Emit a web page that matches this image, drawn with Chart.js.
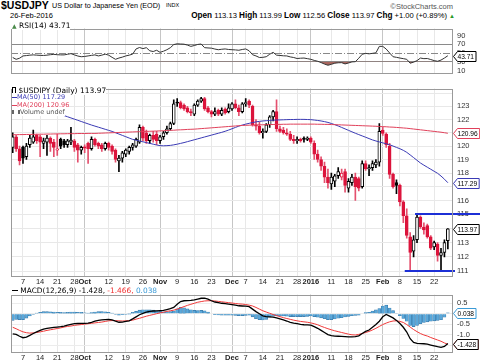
<!DOCTYPE html>
<html>
<head>
<meta charset="utf-8">
<script src="https://cdn.jsdelivr.net/npm/chart.js@4.4.1/dist/chart.umd.min.js"></script>
<style>
  body { margin: 0; width: 480px; height: 363px; overflow: hidden; position: relative; background: #fff;
         font-family: 'Liberation Sans', Arial, sans-serif; color: #000; }
  .box { position: absolute; left: 0; width: 480px; }
  .t { position: absolute; white-space: nowrap; line-height: 1; }
  .lg { position: absolute; z-index: 2; white-space: nowrap; font-family: 'DejaVu Sans', sans-serif; }
  .lg span { background: #fff; }
  .row { height: 7.4px; line-height: 7.4px; font-size: 6.5px; }
  .ico { display: inline-block; vertical-align: middle; }
</style>
</head>
<body>
<div class="t" style="left:1px;top:0px;font-size:10.5px;font-weight:bold;">$USDJPY</div>
<div class="t" style="left:52px;top:2px;font-size:7.2px;">US Dollar to Japanese Yen (EOD)</div>
<div class="t" style="left:166px;top:3px;font-size:5.5px;">INDX</div>
<div class="t" style="left:10px;top:12px;font-size:7.5px;">26-Feb-2016</div>
<div class="t" style="right:27px;top:3px;font-size:7.5px;color:#555;">©StockCharts.com</div>
<div class="t" style="right:25px;top:12px;font-size:7.6px;"><b style="font-size:8.2px">Open</b> 113.13 <b style="font-size:8.2px">High</b> 113.99 <b style="font-size:8.2px">Low</b> 112.56 <b style="font-size:8.2px">Close</b> 113.97 <b style="font-size:8.2px">Chg</b> +1.00 (+0.89%) <span style="color:#2a9a2a;font-size:6px">▲</span></div>

<div class="box" style="top:20px;height:62px;"><canvas id="rsiChart"></canvas></div>
<div class="box" style="top:80px;height:208px;"><canvas id="priceChart"></canvas></div>
<div class="box" style="top:286px;height:77px;"><canvas id="macdChart"></canvas></div>

<div class="lg" style="left:12px;top:22px;font-size:7.5px;line-height:8px;"><span><span style="color:#4a8a4a;font-size:6px">▲</span> RSI(14) 43.71</span></div>

<div class="lg" style="left:12px;top:87px;">
  <div class="row" style="font-size:7.5px;"><span><span class="ico" style="width:2px;height:5px;border:1px solid #000;"></span> $USDJPY (Daily) 113.97</span></div>
  <div class="row" style="color:#3a3ab4;"><span><span class="ico" style="width:5px;border-top:1.5px solid #3a3ab4;"></span>MA(50) 117.29</span></div>
  <div class="row" style="color:#e0405a;"><span><span class="ico" style="width:5px;border-top:1.5px solid #e0405a;"></span>MA(200) 120.96</span></div>
  <div class="row" style="color:#555;"><span><span class="ico" style="width:4px;height:4px;border-left:2px solid #666;border-right:2px solid #666;"></span>Volume undef</span></div>
</div>

<div class="lg" style="left:12px;top:287px;font-size:7.4px;line-height:8px;"><span><span class="ico" style="width:6px;border-top:1.5px solid #000;"></span> MACD(12,26,9) -1.428, <span style="color:#f03030">-1.466,</span> <span style="color:#3a9ad6">0.038</span></span></div>

<script>
// calendar: every weekday shown from first to last bar
const firstDay = '2015-09-02';
const lastDay = '2016-02-26';

const tickDates = ['2015-09-07', '2015-09-14', '2015-09-21', '2015-09-28', '2015-10-01', '2015-10-12', '2015-10-19',
    '2015-10-26', '2015-11-02', '2015-11-09', '2015-11-16', '2015-11-23', '2015-12-01', '2015-12-07', '2015-12-14',
    '2015-12-21', '2015-12-28', '2016-01-01', '2016-01-11', '2016-01-18', '2016-01-25', '2016-02-01', '2016-02-08',
    '2016-02-15', '2016-02-22'];
const tickText = ['7', '14', '21', '28', 'Oct', '12', '19', '26', 'Nov', '9', '16', '23', 'Dec', '7', '14',
    '21', '28', '2016', '11', '18', '25', 'Feb', '8', '15', '22'];
const boldTicks = ['Oct', 'Nov', 'Dec', '2016', 'Feb'];

const open = [
    119.9, 120.7, 119.8, 119.9, 119.2, 120.1, 120.3, 120.8, 120.7, 120.2,
    120.3, 120.6, 120.3, 119.7, 120.5, 120.4, 120.1, 120.3, 120.4, 120.1,
    119.7, 119.95, 120.2, 119.8, 120.5, 120.2, 120.1, 119.8, 120.2, 120.0,
    119.7, 118.9, 119.1, 119.4, 119.6, 119.9, 120.0, 120.3, 121.4, 121.0,
    120.4, 120.8, 120.9, 120.4, 120.7, 121.0, 121.3, 121.7, 123.3, 123.3,
    123.1, 122.9, 122.6, 122.4, 123.1, 123.4, 123.6, 122.9, 122.6, 122.4,
    122.7, 122.4, 122.8, 122.6, 122.8, 123.2, 122.9, 122.6, 123.2, 123.4,
    123.0, 121.6, 121.5, 121.0, 121.1, 121.6, 122.2, 122.6, 121.3, 121.2,
    121.0, 120.9, 120.5, 120.4, 120.5, 120.6, 120.5, 120.6, 120.2, 119.4,
    119.0, 118.5, 117.7, 117.2, 117.4, 117.8, 117.7, 118.1, 116.9, 117.3,
    117.7, 117.6, 117.0, 118.7, 118.3, 118.4, 118.6, 118.8, 121.2, 120.9,
    120.0, 117.9, 117.3, 117.1, 115.9, 114.9, 113.4, 112.4, 113.2, 114.8,
    114.1, 114.2, 113.4, 112.7, 112.9, 112.1, 112.3, 113.13];
const high = [
    121.0, 120.8, 120.0, 120.0, 120.2, 120.8, 121.2, 120.9, 120.8, 120.6,
    120.8, 120.7, 120.5, 120.9, 120.6, 120.5, 120.5, 121.4, 120.5, 120.2,
    120.0, 120.1, 120.3, 120.7, 120.6, 120.3, 120.2, 120.3, 120.3, 120.1,
    119.8, 119.3, 119.6, 119.8, 120.0, 120.2, 120.6, 121.6, 121.5, 121.2,
    120.9, 121.1, 121.1, 120.8, 121.1, 121.5, 121.8, 123.5, 123.6, 123.4,
    123.2, 123.0, 122.8, 123.2, 123.5, 123.7, 123.7, 123.0, 122.7, 122.9,
    122.8, 122.9, 122.9, 123.2, 123.3, 123.5, 123.1, 123.3, 123.6, 123.5,
    123.1, 122.0, 121.8, 121.3, 121.7, 122.3, 122.7, 123.5, 121.5, 121.4,
    121.3, 121.1, 120.8, 120.7, 120.6, 120.7, 120.7, 120.7, 120.4, 119.7,
    119.2, 118.8, 118.3, 118.0, 117.9, 118.4, 118.3, 118.3, 117.6, 117.9,
    118.0, 117.7, 118.9, 118.9, 118.6, 118.9, 119.0, 121.7, 121.4, 121.0,
    120.2, 118.0, 117.5, 117.2, 116.0, 115.4, 113.7, 113.5, 115.0, 114.9,
    114.4, 114.3, 113.5, 113.1, 113.0, 112.6, 113.2, 113.99];
const low = [
    119.5, 119.6, 118.6, 118.7, 119.0, 119.9, 120.2, 120.2, 119.2, 119.8,
    119.3, 119.6, 119.2, 119.3, 119.8, 119.9, 119.9, 120.1, 119.6, 118.8,
    119.4, 119.5, 118.7, 119.7, 120.0, 119.8, 119.6, 119.7, 119.7, 119.4,
    118.8, 118.1, 118.8, 119.2, 119.4, 119.7, 119.9, 120.2, 120.4, 120.2,
    120.2, 120.3, 120.1, 120.2, 120.5, 120.9, 121.2, 121.6, 123.0, 122.8,
    122.7, 122.5, 122.3, 122.3, 123.0, 123.3, 122.7, 122.5, 122.2, 122.3,
    122.3, 122.3, 122.4, 122.5, 122.7, 122.8, 122.3, 122.5, 123.0, 122.9,
    121.5, 121.2, 120.9, 120.6, 121.0, 121.4, 121.9, 121.1, 121.0, 120.9,
    120.8, 120.4, 120.2, 120.2, 120.3, 120.3, 120.4, 120.2, 119.0, 118.8,
    118.2, 117.3, 116.9, 116.8, 117.0, 117.6, 117.5, 116.6, 116.6, 117.1,
    116.0, 116.7, 116.9, 118.2, 117.8, 118.2, 118.4, 118.5, 120.8, 119.9,
    117.6, 116.9, 116.5, 115.6, 114.4, 113.3, 111.0, 112.0, 113.0, 114.0,
    113.6, 113.3, 112.5, 112.5, 111.7, 111.1, 112.0, 112.56];
const close = [
    120.7, 119.8, 118.9, 119.1, 120.0, 120.6, 120.7, 120.4, 120.3, 120.4,
    120.6, 120.2, 119.9, 119.8, 120.0, 120.1, 120.4, 120.45, 119.9, 119.7,
    119.9, 119.85, 119.8, 120.5, 120.1, 120.0, 119.8, 120.2, 119.9, 119.6,
    119.0, 119.1, 119.5, 119.7, 119.9, 120.1, 120.5, 121.4, 120.6, 120.4,
    120.8, 120.5, 120.4, 120.7, 121.0, 121.3, 121.7, 123.2, 123.25, 122.9,
    122.8, 122.6, 122.5, 123.1, 123.4, 123.6, 122.8, 122.6, 122.4, 122.6,
    122.4, 122.7, 122.5, 122.9, 123.2, 122.9, 122.6, 123.2, 123.3, 123.1,
    121.6, 121.5, 121.0, 121.1, 121.6, 122.2, 122.6, 121.3, 121.1, 121.0,
    120.9, 120.5, 120.4, 120.5, 120.4, 120.5, 120.6, 120.3, 119.4, 119.0,
    118.5, 117.7, 117.3, 117.7, 117.8, 118.1, 118.0, 117.1, 117.4, 117.7,
    117.0, 116.9, 118.7, 118.3, 118.4, 118.7, 118.8, 121.1, 120.95, 120.1,
    117.9, 117.0, 117.1, 115.9, 114.9, 113.5, 112.3, 113.2, 114.8, 114.1,
    113.9, 113.4, 112.6, 113.0, 112.1, 112.3, 113.0, 113.97];

const ma50 = [
    123.50, 123.42, 123.34, 123.26, 123.18, 123.10, 123.02, 122.94, 122.86, 122.78,
    122.70, 122.62, 122.54, 122.46, 122.38, 122.30, 122.21, 122.12, 122.03, 121.94,
    121.85, 121.76, 121.67, 121.58, 121.50, 121.42, 121.34, 121.26, 121.18, 121.10,
    121.00, 120.90, 120.80, 120.70, 120.60, 120.50, 120.44, 120.38, 120.32, 120.26,
    120.20, 120.14, 120.08, 120.03, 120.02, 120.03, 120.05, 120.09, 120.14, 120.20,
    120.26, 120.33, 120.40, 120.47, 120.54, 120.61, 120.68, 120.75, 120.82, 120.89,
    120.96, 121.03, 121.11, 121.20, 121.30, 121.40, 121.50, 121.58, 121.65, 121.71,
    121.77, 121.82, 121.86, 121.89, 121.91, 121.93, 121.95, 121.96, 121.97, 121.98,
    121.99, 122.00, 122.00, 122.01, 122.01, 122.01, 122.00, 121.99, 121.96, 121.93,
    121.89, 121.84, 121.78, 121.70, 121.61, 121.51, 121.40, 121.29, 121.18, 121.07,
    120.96, 120.86, 120.76, 120.66, 120.56, 120.46, 120.38, 120.31, 120.24, 120.17,
    120.10, 120.00, 119.90, 119.80, 119.68, 119.53, 119.34, 119.14, 118.94, 118.74,
    118.58, 118.43, 118.28, 118.13, 117.98, 117.78, 117.55, 117.29];
const ma200 = [
    120.85, 120.85, 120.86, 120.86, 120.87, 120.87, 120.88, 120.88, 120.89, 120.89,
    120.90, 120.90, 120.91, 120.91, 120.92, 120.92, 120.93, 120.93, 120.93, 120.94,
    120.94, 120.94, 120.95, 120.95, 120.95, 120.96, 120.97, 120.98, 120.99, 121.00,
    121.01, 121.02, 121.03, 121.04, 121.05, 121.06, 121.07, 121.08, 121.09, 121.10,
    121.11, 121.12, 121.13, 121.14, 121.15, 121.17, 121.18, 121.19, 121.21, 121.22,
    121.23, 121.25, 121.26, 121.27, 121.29, 121.31, 121.33, 121.35, 121.37, 121.39,
    121.41, 121.43, 121.45, 121.47, 121.49, 121.51, 121.53, 121.55, 121.56, 121.57,
    121.58, 121.59, 121.60, 121.60, 121.61, 121.62, 121.62, 121.63, 121.63, 121.64,
    121.64, 121.65, 121.65, 121.65, 121.65, 121.65, 121.65, 121.65, 121.65, 121.64,
    121.64, 121.63, 121.63, 121.62, 121.61, 121.60, 121.59, 121.58, 121.57, 121.56,
    121.55, 121.54, 121.53, 121.52, 121.51, 121.50, 121.49, 121.47, 121.46, 121.45,
    121.43, 121.42, 121.40, 121.38, 121.36, 121.34, 121.31, 121.28, 121.25, 121.22,
    121.19, 121.16, 121.13, 121.10, 121.07, 121.04, 121.00, 120.96];

const rsi = [
    39.6, 35.5, 38, 43.2, 44, 45, 45.6, 45, 44.5, 44.3,
    45, 46, 46.8, 46, 45.6, 45.6, 47, 48.5, 45.6, 43,
    41.4, 42, 43.2, 44.5, 45.6, 43.2, 45, 47.3, 45, 40,
    35.5, 38.4, 40.5, 43.2, 45, 47.3, 59.2, 62.5, 60, 62.1,
    55, 53.3, 56.2, 51.5, 54, 57.4, 62, 69.2, 71, 70.5,
    70.1, 68, 65.1, 67, 69.5, 70.5, 62.1, 61.5, 61, 59,
    57.4, 58.5, 59.2, 58, 57.4, 57, 56.2, 58, 59.2, 55,
    46, 43.2, 39.6, 40, 41.4, 47, 51.5, 45, 44.3, 43.5,
    43.2, 41, 39.6, 37.3, 38, 38.4, 37, 35.5, 33, 31,
    28, 24.5, 21.9, 24, 26.6, 27.5, 27.8, 24.9, 27, 29.6,
    30, 38, 47, 49.1, 48, 49.1, 50.3, 65.1, 65.1, 59,
    50, 41.4, 40, 38.4, 37, 35.5, 26.6, 29, 32.5, 38.4,
    37, 37.3, 35, 32.5, 31, 33.7, 38.4, 43.71];

const macd = [
    -0.97, -0.99, -1.08, -1.15, -1.12, -1.04, -0.95, -0.87, -0.80, -0.74,
    -0.70, -0.68, -0.66, -0.64, -0.62, -0.59, -0.55, -0.51, -0.48, -0.47,
    -0.46, -0.46, -0.45, -0.41, -0.36, -0.32, -0.30, -0.28, -0.27, -0.30,
    -0.36, -0.41, -0.40, -0.37, -0.34, -0.25, -0.15, -0.05, 0.02, 0.07,
    0.11, 0.13, 0.14, 0.15, 0.16, 0.20, 0.24, 0.30, 0.45, 0.58,
    0.62, 0.63, 0.64, 0.66, 0.70, 0.74, 0.75, 0.70, 0.62, 0.56,
    0.53, 0.50, 0.48, 0.46, 0.44, 0.41, 0.38, 0.37, 0.36, 0.34,
    0.22, 0.10, 0.00, -0.10, -0.14, -0.15, -0.16, -0.20, -0.25, -0.30,
    -0.35, -0.41, -0.45, -0.48, -0.51, -0.53, -0.54, -0.55, -0.62, -0.70,
    -0.80, -0.90, -1.00, -1.05, -1.07, -1.08, -1.09, -1.10, -1.11, -1.11,
    -1.10, -1.06, -0.95, -0.85, -0.78, -0.65, -0.52, -0.36, -0.15, -0.04,
    -0.12, -0.20, -0.32, -0.47, -0.65, -0.88, -1.20, -1.38, -1.42, -1.43,
    -1.44, -1.46, -1.50, -1.54, -1.58, -1.61, -1.57, -1.428];
const signal = [
    -0.65, -0.72, -0.80, -0.87, -0.91, -0.93, -0.92, -0.90, -0.87, -0.84,
    -0.80, -0.77, -0.74, -0.71, -0.68, -0.64, -0.61, -0.59, -0.56, -0.54,
    -0.52, -0.50, -0.48, -0.46, -0.44, -0.42, -0.40, -0.37, -0.34, -0.33,
    -0.33, -0.34, -0.35, -0.34, -0.33, -0.31, -0.26, -0.22, -0.17, -0.12,
    -0.08, -0.04, 0.00, 0.04, 0.07, 0.11, 0.14, 0.17, 0.22, 0.28,
    0.34, 0.40, 0.45, 0.50, 0.55, 0.58, 0.61, 0.62, 0.62, 0.61,
    0.59, 0.57, 0.55, 0.53, 0.51, 0.49, 0.47, 0.46, 0.44, 0.41,
    0.37, 0.30, 0.22, 0.14, 0.08, 0.02, -0.04, -0.09, -0.14, -0.19,
    -0.23, -0.27, -0.31, -0.34, -0.37, -0.39, -0.41, -0.44, -0.48, -0.53,
    -0.60, -0.66, -0.72, -0.77, -0.82, -0.86, -0.90, -0.94, -0.98, -1.01,
    -1.02, -0.99, -0.95, -0.90, -0.85, -0.78, -0.70, -0.61, -0.52, -0.45,
    -0.39, -0.35, -0.34, -0.37, -0.42, -0.52, -0.64, -0.76, -0.86, -0.95,
    -1.02, -1.07, -1.14, -1.20, -1.26, -1.32, -1.40, -1.466];
const hist = [
    -0.32, -0.27, -0.28, -0.28, -0.21, -0.11, -0.03, 0.03, 0.07, 0.10,
    0.10, 0.09, 0.08, 0.07, 0.06, 0.05, 0.06, 0.08, 0.08, 0.07,
    0.06, 0.04, 0.03, 0.05, 0.08, 0.10, 0.10, 0.09, 0.07, 0.03,
    -0.03, -0.07, -0.05, -0.03, -0.01, 0.06, 0.11, 0.17, 0.19, 0.19,
    0.19, 0.17, 0.14, 0.11, 0.09, 0.09, 0.10, 0.13, 0.23, 0.30,
    0.28, 0.23, 0.19, 0.16, 0.15, 0.16, 0.14, 0.08, 0.00, -0.05,
    -0.06, -0.07, -0.07, -0.07, -0.07, -0.08, -0.09, -0.09, -0.08, -0.07,
    -0.15, -0.24, -0.28, -0.30, -0.27, -0.17, -0.12, -0.11, -0.11, -0.11,
    -0.12, -0.14, -0.14, -0.14, -0.14, -0.14, -0.13, -0.11, -0.14, -0.17,
    -0.20, -0.24, -0.28, -0.28, -0.25, -0.22, -0.19, -0.16, -0.13, -0.10,
    -0.08, -0.07, 0.00, 0.05, 0.07, 0.13, 0.18, 0.25, 0.37, 0.41,
    0.27, 0.15, 0.02, -0.10, -0.23, -0.36, -0.56, -0.62, -0.56, -0.48,
    -0.42, -0.39, -0.36, -0.34, -0.32, -0.29, -0.17, 0.038];

const priceTicks = [111, 112, 113, 114, 115, 116, 117, 118, 119, 120, 121, 122, 123, 124];
const rsiTicks = [10, 30, 50, 70, 90];
const macdTicks = [0.5, 0, -0.5, -1.0, -1.5];

// drawn lines on the price panel
const resistance = { value: 115, from: '2016-02-15' };
const support = { value: 111, from: '2016-02-10' };

const RED = '#dc143c';
const WICK_RED = '#e4506e';
const BLUE = '#3a3ab4';
const MA_RED = '#e0405a';
const FONT = "'Liberation Sans', Arial, sans-serif";

Chart.defaults.font.family = FONT;
Chart.defaults.animation = false;

function tradingDays(a, b) {
    const out = [];
    const d = new Date(a + 'T00:00:00Z');
    const end = new Date(b + 'T00:00:00Z');
    while (d <= end) {
        const wd = d.getUTCDay();
        if (wd > 0 && wd < 6) out.push(d.toISOString().slice(0, 10));
        d.setUTCDate(d.getUTCDate() + 1);
    }
    return out;
}

const days = tradingDays(firstDay, lastDay);
const labels = days.concat(['']);   // one empty slot after the last bar, like the original
const tickAt = {};
tickDates.forEach((d, k) => { tickAt[days.indexOf(d)] = tickText[k]; });

// candle colours: hollow when close > open, red when close below the previous close
const bodyFill = close.map((c, i) => {
    const prev = i ? close[i - 1] : open[i];
    if (c >= open[i]) return '#ffffff';
    return c >= prev ? '#000000' : RED;
});
const bodyLine = close.map((c, i) => ((i ? close[i - 1] : open[i]) <= c ? '#000000' : RED));
const wickColor = bodyLine.map(c => (c === RED ? WICK_RED : '#000000'));

function xAxis(showLabels, h) {
    return {
        type: 'category',
        offset: true,
        grid: {
            offset: false, drawTicks: false,
            color: c => (c.tick && boldTicks.includes(c.tick.label)) ? '#c6c6c6' : '#e8e8e8'
        },
        border: { display: false },
        ticks: {
            display: showLabels, autoSkip: false, maxRotation: 0, minRotation: 0, padding: 1, color: '#222',
            font: c => ({ family: FONT, size: 7.5, weight: (c.tick && boldTicks.includes(c.tick.label)) ? 'bold' : 'normal' }),
            callback: v => tickAt[v]
        },
        afterBuildTicks: s => { s.ticks = s.ticks.filter(t => tickAt[t.value] !== undefined); },
        afterFit: s => { s.height = h; }
    };
}

function yAxis(extra) {
    return Object.assign({
        position: 'right',
        border: { display: false },
        grid: { drawTicks: false, color: '#e8e8e8' },
        ticks: { padding: 4, color: '#333', font: { size: 7.5 } },
        afterFit: s => { s.width = 27; }
    }, extra);
}

const frame = {
    id: 'frame',
    afterDatasetsDraw(chart) {
        const { ctx, chartArea: a } = chart;
        ctx.save();
        ctx.strokeStyle = '#9a9a9a';
        ctx.lineWidth = 1;
        ctx.strokeRect(Math.round(a.left) + 0.5, Math.round(a.top) + 0.5,
            Math.round(a.right - a.left) - 1, Math.round(a.bottom - a.top) - 1);
        ctx.restore();
    }
};

// last-value tags on the right axis
function valueTags(list) {
    return {
        id: 'valueTags',
        afterDraw(chart) {
            const ctx = chart.ctx;
            const x = Math.round(chart.chartArea.right) + 0.5;
            ctx.save();
            ctx.font = '6.6px ' + FONT;
            list.forEach(t => {
                const y = Math.round(chart.scales.y.getPixelForValue(t.value)) + 0.5;
                const w = ctx.measureText(t.text).width + 6;
                ctx.beginPath();
                ctx.moveTo(x, y);
                ctx.lineTo(x + 4, y - 5);
                ctx.lineTo(x + w, y - 5);
                ctx.lineTo(x + w, y + 5);
                ctx.lineTo(x + 4, y + 5);
                ctx.closePath();
                ctx.fillStyle = '#fff';
                ctx.fill();
                ctx.strokeStyle = t.color;
                ctx.lineWidth = 1;
                ctx.stroke();
                ctx.fillStyle = '#000';
                ctx.textBaseline = 'middle';
                ctx.fillText(t.text, x + 4, y + 0.5);
            });
            ctx.restore();
        }
    };
}

const levelLines = {
    id: 'levelLines',
    afterDatasetsDraw(chart) {
        const { ctx, scales: { x, y }, chartArea } = chart;
        ctx.save();
        ctx.strokeStyle = '#1c2fd6';
        ctx.lineWidth = 2;
        [[resistance, chart.width], [support, chartArea.right + 2]].forEach(([l, end]) => {
            const py = Math.round(y.getPixelForValue(l.value));
            ctx.beginPath();
            ctx.moveTo(x.getPixelForValue(days.indexOf(l.from)) - 2, py);
            ctx.lineTo(end, py);
            ctx.stroke();
        });
        ctx.restore();
    }
};

const rsiMid = {
    id: 'rsiMid',
    beforeDatasetsDraw(chart) {
        const { ctx, chartArea: a } = chart;
        const y = Math.round(chart.scales.y.getPixelForValue(50)) + 0.5;
        ctx.save();
        ctx.strokeStyle = '#888';
        ctx.lineWidth = 1;
        ctx.setLineDash([7, 2, 1, 2]);
        ctx.beginPath();
        ctx.moveTo(a.left, y);
        ctx.lineTo(a.right, y);
        ctx.stroke();
        ctx.restore();
    }
};

const common = {
    responsive: true,
    maintainAspectRatio: false,
    events: [],
    plugins: { legend: { display: false }, tooltip: { enabled: false } }
};

new Chart(document.getElementById('rsiChart'), {
    type: 'line',
    data: {
        labels: labels,
        datasets: [{
            data: rsi,
            borderColor: '#333',
            borderWidth: 1,
            pointRadius: 0,
            fill: { target: { value: 30 }, above: 'rgba(0,0,0,0)', below: '#a8665e' }
        }]
    },
    options: Object.assign({}, common, {
        layout: { padding: { left: 11, right: 0, top: 2, bottom: 1 } },
        scales: {
            x: xAxis(false, 0),
            y: yAxis({
                min: 3, max: 106,
                afterBuildTicks: s => { s.ticks = rsiTicks.map(v => ({ value: v })); },
                grid: { drawTicks: false, color: c => (c.tick && (c.tick.value === 30 || c.tick.value === 70)) ? '#8a8a8a' : 'rgba(0,0,0,0)' }
            })
        }
    }),
    plugins: [rsiMid, frame, valueTags([{ value: rsi[rsi.length - 1], text: '43.71', color: '#000' }])]
});

new Chart(document.getElementById('priceChart'), {
    type: 'bar',
    data: {
        labels: labels,
        datasets: [
            {
                data: low.map((l, i) => [l, high[i]]),
                backgroundColor: wickColor,
                barThickness: 1,
                grouped: false,
                order: 3
            },
            {
                data: open.map((o, i) => [o, close[i]]),
                backgroundColor: bodyFill,
                borderColor: bodyLine,
                borderWidth: 1,
                borderSkipped: false,
                barThickness: 3,
                minBarLength: 1,
                grouped: false,
                order: 2
            },
            { type: 'line', data: ma200, borderColor: MA_RED, borderWidth: 1, pointRadius: 0, order: 1 },
            { type: 'line', data: ma50, borderColor: BLUE, borderWidth: 1, pointRadius: 0, order: 1 }
        ]
    },
    options: Object.assign({}, common, {
        layout: { padding: { left: 11, right: 0, top: 1, bottom: 0 } },
        scales: {
            x: xAxis(true, 12),
            y: yAxis({
                type: 'logarithmic', min: 110.67, max: 124.38,
                afterBuildTicks: s => { s.ticks = priceTicks.map(v => ({ value: v })); },
                ticks: { padding: 4, color: '#333', font: { size: 7.5 }, callback: v => (v === 124 ? '' : String(v)) }
            })
        }
    }),
    plugins: [levelLines, frame, valueTags([
        { value: ma200[ma200.length - 1], text: '120.96', color: MA_RED },
        { value: ma50[ma50.length - 1], text: '117.29', color: BLUE },
        { value: close[close.length - 1], text: '113.97', color: '#000' }
    ])]
});

new Chart(document.getElementById('macdChart'), {
    type: 'bar',
    data: {
        labels: labels,
        datasets: [
            { data: hist, backgroundColor: '#5aa8da', borderColor: '#3778a8', borderWidth: 0.6, barThickness: 3, order: 3 },
            { type: 'line', data: signal, borderColor: '#f03a3a', borderWidth: 1, pointRadius: 0, order: 2 },
            { type: 'line', data: macd, borderColor: '#000', borderWidth: 1.3, pointRadius: 0, order: 1 }
        ]
    },
    options: Object.assign({}, common, {
        layout: { padding: { left: 11, right: 0, top: 1, bottom: 0 } },
        scales: {
            x: xAxis(true, 11),
            y: yAxis({
                min: -1.835, max: 0.92,
                afterBuildTicks: s => { s.ticks = macdTicks.map(v => ({ value: v })); },
                grid: { drawTicks: false, color: '#ececec' },
                ticks: { padding: 4, color: '#333', font: { size: 7.5 }, callback: v => v.toFixed(1) }
            })
        }
    }),
    plugins: [frame, valueTags([
        { value: signal[signal.length - 1], text: '-1.466', color: '#f03a3a' },
        { value: macd[macd.length - 1], text: '-1.428', color: '#000' },
        { value: hist[hist.length - 1], text: '0.038', color: '#3a9ad6' }
    ])]
});
</script>
</body>
</html>
